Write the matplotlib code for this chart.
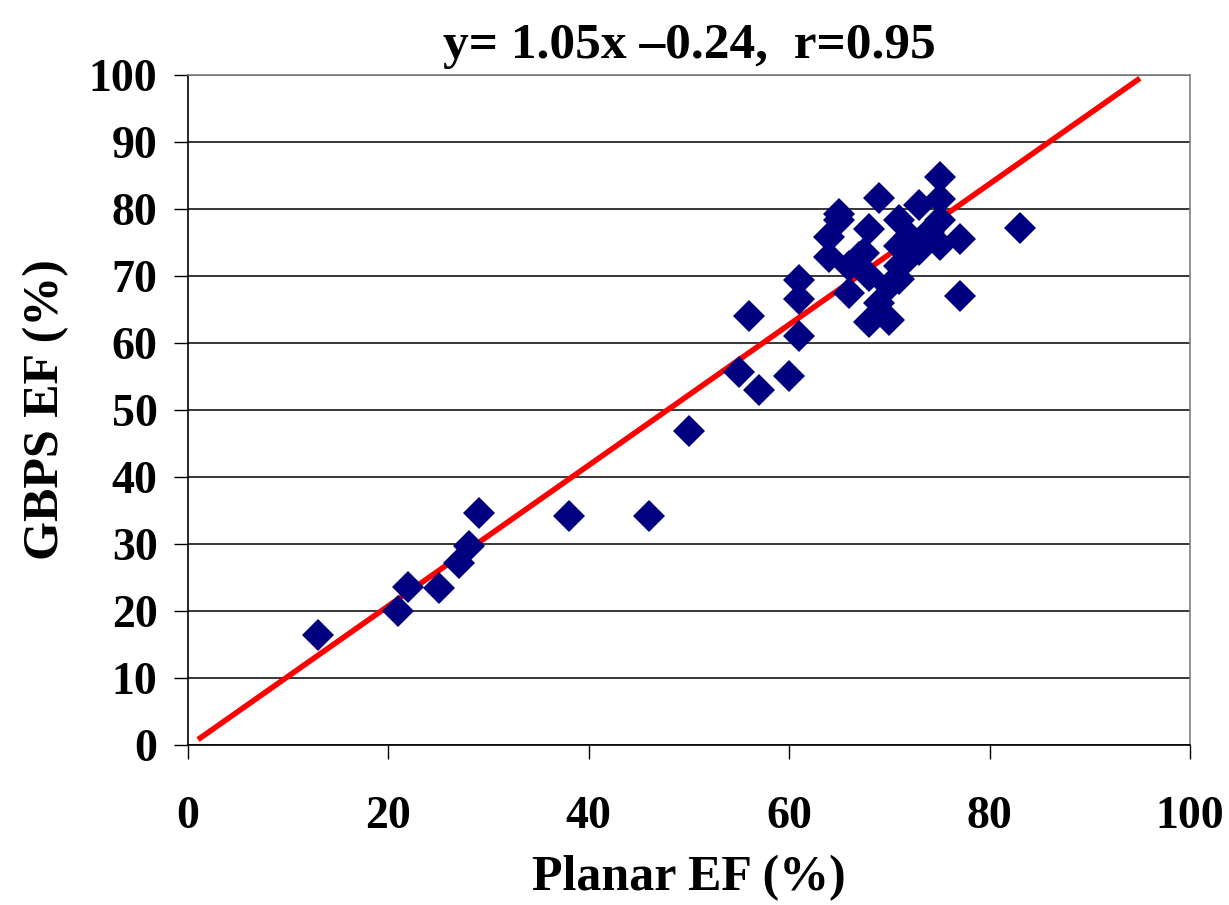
import matplotlib
matplotlib.use("Agg")
import matplotlib.pyplot as plt
import numpy as np

planar_ef = [13, 21, 22, 25, 27, 28, 29, 38, 46, 50, 55, 56, 57, 60, 61, 61, 61,
             64, 64, 65, 65, 66, 66, 67, 67.5, 68, 68, 68, 69, 69, 70, 70, 71, 71, 71, 71,
             72, 72, 73, 73, 74, 75, 75, 75, 75, 77, 77, 83]
gbps_ef = [16.4, 20, 23.6, 23.4, 27.2, 29.7, 34.6, 34.2, 34.2, 46.8, 55.6, 64.1, 53, 55, 61, 66.6, 69.4,
           72.9, 75.8, 78.3, 79.2, 67.5, 71.5, 72.9, 73.5, 63.2, 70, 77, 66, 81.6, 63.5, 68.5, 69.5, 71.5, 74.5, 78.4,
           72.8, 76, 73.9, 80.6, 76.5, 74.6, 78.4, 81.5, 84.8, 67, 75.5, 77.2]
slope, intercept = 1.05, -0.24
fit_x = [1, 95]
title = "y= 1.05x \u20130.24,  r=0.95"

plt.rcParams['font.family'] = ['Liberation Serif', 'DejaVu Serif']
plt.rcParams['font.weight'] = 'bold'

fig = plt.figure(figsize=(12.29, 9.05), dpi=100)
ax = fig.add_axes([188/1229, 1-745/905, (1190-188)/1229, (745-75)/905])

ax.set_xlim(0, 100)
ax.set_ylim(0, 100)
ax.set_yticks(np.arange(0, 101, 10))
ax.set_xticks(np.arange(0, 101, 20))
ax.yaxis.grid(True, color='black', linewidth=1.1)
ax.set_axisbelow(True)

fx = np.array(fit_x)
ax.plot(fx, slope*fx + intercept, color='#ff0000', linewidth=4, zorder=2, solid_capstyle='butt')
ax.plot(planar_ef, gbps_ef, linestyle='none', marker='D', markersize=16,
        color='#000080', markeredgewidth=0, zorder=3)

for s in ['top', 'right']:
    ax.spines[s].set_color('#808080')
    ax.spines[s].set_linewidth(1.2)
for s in ['left', 'bottom']:
    ax.spines[s].set_color('black')
    ax.spines[s].set_linewidth(1.2)

ax.tick_params(axis='x', direction='out', length=10, width=1, pad=27, labelsize=33)
ax.tick_params(axis='y', direction='out', length=10, width=1, pad=12, labelsize=33)
for lab in ax.get_xticklabels() + ax.get_yticklabels():
    lab.set_fontweight('bold')

ax.set_title(title, fontsize=37, fontweight='bold', pad=12)
ax.set_xlabel("Planar EF (%)", fontsize=36, fontweight='bold', labelpad=12)
ax.set_ylabel("GBPS EF (%)", fontsize=36, fontweight='bold', labelpad=14)

fig.savefig("out.png", dpi=100)
